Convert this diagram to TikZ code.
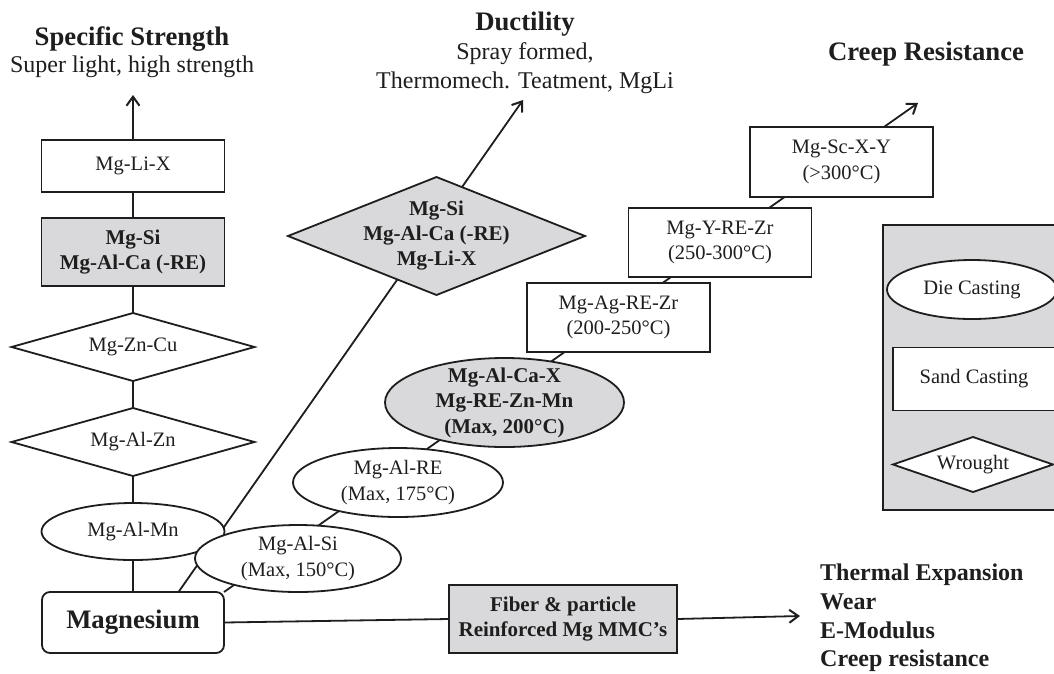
\documentclass[tikz,border=0pt]{standalone}
\usepackage{fontspec}
\setmainfont{Liberation Serif}
\usetikzlibrary{shapes.geometric,arrows.meta,calc}
\definecolor{fillgray}{RGB}{217,217,219}
\definecolor{ink}{RGB}{30,30,30}
\newcommand\myfs[2]{\fontsize{#1}{#2}\selectfont}
\pgfdeclarelayer{bg}
\pgfsetlayers{bg,main}
\tikzset{
  base/.style={draw=ink, line width=1.8pt, inner sep=0pt, outer sep=0pt, align=center, fill=white, text=ink, font=\myfs{20.5}{25.5}},
  nbox/.style={base, rectangle, minimum width=183pt, minimum height=69pt},
  gbox/.style={nbox, fill=fillgray, font=\myfs{21}{25}\bfseries},
  ndia/.style={base, diamond, aspect=3.5, minimum width=243pt, minimum height=68pt},
  nell/.style={base, ellipse},
  conn/.style={draw=ink, line width=1.8pt},
  arr/.style={conn, -{Straight Barb[length=9pt,width=13pt,line width=2pt]}},
  head/.style={font=\myfs{26.7}{30}\bfseries, inner sep=0pt, anchor=base, text=ink},
  sub/.style={font=\myfs{24}{29}, inner sep=0pt, anchor=base, text=ink},
  prop/.style={font=\myfs{24}{29}\bfseries, inner sep=0pt, anchor=base west, text=ink},
}
\begin{document}
\begin{tikzpicture}[x=1pt,y=-1pt]
\useasboundingbox (0,0) rectangle (1054,673);

% headings
\node[head] (hs) at (132,45) {Specific Strength};
\node[sub] (hs2) at (132,72) {Super light, high strength};
\node[head] (hd) at (525,30) {Ductility};
\node[sub] (hd2) at (525,59) {Spray formed,};
\node[sub] (hd3) at (525,88) {Thermomech. Teatment, MgLi};
\node[head] (hc) at (926,60) {Creep Resistance};

% left column
\node[nbox, minimum height=52pt] (lix) at (133,166) {Mg-Li-X};
\node[gbox, minimum height=68pt] (sica) at (133,252) {Mg-Si\\Mg-Al-Ca (-RE)};
\node[ndia] (zncu) at (133,347) {Mg-Zn-Cu};
\node[ndia] (alzn) at (133,442) {Mg-Al-Zn};
\node[nell, minimum width=183pt, minimum height=57pt] (almn) at (133,531.5) {Mg-Al-Mn};
\node[base, rectangle, rounded corners=8pt, minimum width=182pt, minimum height=61pt, font=\myfs{26.7}{30}\bfseries] (mg) at (133,622.5) {Magnesium};

% creep chain
\node[nell, minimum width=206pt, minimum height=67pt] (alsi) at (298,558.5) {Mg-Al-Si\\(Max, 150°C)};
\node[nell, minimum width=210pt, minimum height=69pt] (alre) at (398,482.5) {Mg-Al-RE\\(Max, 175°C)};
\node[nell, fill=fillgray, inner sep=-10pt, minimum width=239pt, minimum height=89pt, font=\myfs{21}{25.5}\bfseries] (alca) at (504.5,402.5) {Mg-Al-Ca-X\\Mg-RE-Zn-Mn\\(Max, 200°C)};
\node[nbox] (agre) at (618.5,317.5) {Mg-Ag-RE-Zr\\(200-250°C)};
\node[nbox] (yre) at (720,242.5) {Mg-Y-RE-Zr\\(250-300°C)};
\node[nbox, minimum height=70pt] (scxy) at (841.5,162) {Mg-Sc-X-Y\\(>300°C)};

% ductility diamond
\node[base, diamond, aspect=2.5, inner sep=-25pt, fill=fillgray, minimum width=297pt, minimum height=118pt, font=\myfs{21}{25}\bfseries] (dia) at (436.5,236) {Mg-Si\\Mg-Al-Ca (-RE)\\Mg-Li-X};

% MMC
\node[nbox, fill=fillgray, minimum width=228pt, minimum height=68pt, font=\myfs{21}{25}\bfseries] (mmc) at (563,619) {Fiber \& particle\\Reinforced Mg MMC’s};

% property list
\node[prop] (p1) at (820,580) {Thermal Expansion};
\node[prop] (p2) at (820,609) {Wear};
\node[prop] (p3) at (820,638) {E-Modulus};
\node[prop] (p4) at (820,666) {Creep resistance};

% arrow ends
\coordinate (tip0) at (133,95);
\coordinate (tip1) at (523,100);
\coordinate (tip2) at (918,103);
\coordinate (tip3) at (800,616);

% legend
\begin{scope}
\clip (0,0) rectangle (1054,673);
\draw[draw=ink, line width=1.8pt, fill=fillgray] (883,225) rectangle (1066,510);
\node[nell, minimum width=170pt, minimum height=59pt] (die) at (972,289.5) {Die Casting};
\node[base, rectangle, minimum width=162pt, minimum height=63pt] (sand) at (974,379) {Sand Casting};
\node[base, diamond, aspect=3, minimum width=160pt, minimum height=55pt] (wro) at (973,464.5) {Wrought};
\end{scope}

\begin{pgfonlayer}{bg}
\fill[white] (0,0) rectangle (1054,673);
\draw[arr] ($(mg.north west)!0.75!(mg.north east)$) -- (tip1);
\draw[arr] (mg.north east) -- (tip2);
\draw[conn] (mg.north) -- (almn.south);
\draw[conn] (almn.north) -- (alzn.south);
\draw[conn] (alzn.north) -- (zncu.south);
\draw[conn] (zncu.north) -- (sica.south);
\draw[conn] (sica.north) -- (lix.south);
\draw[arr] (lix.north) -- (tip0);
\draw[conn] (mg.east) -- (mmc.west);
\draw[arr] (mmc.east) -- (tip3);
\end{pgfonlayer}
\end{tikzpicture}
\end{document}
